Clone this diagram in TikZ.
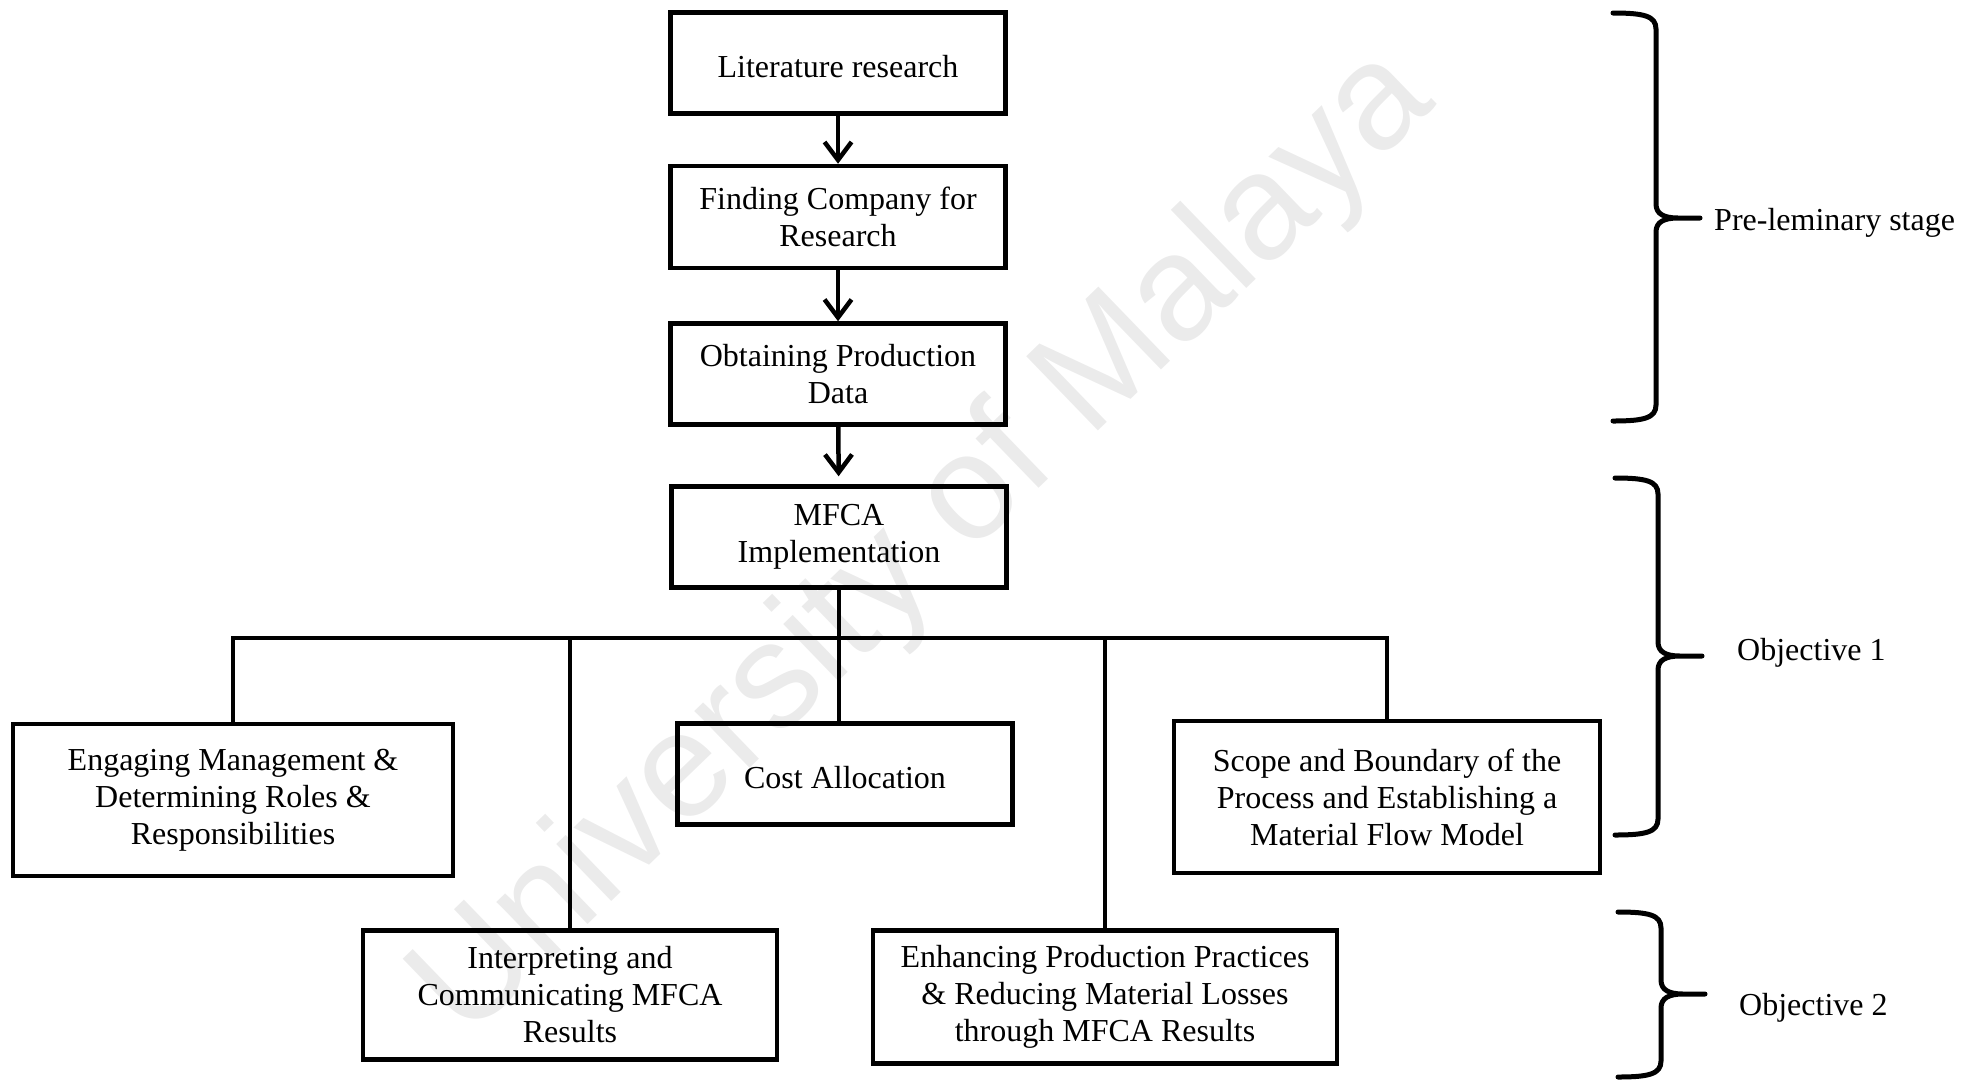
\documentclass[tikz,border=0pt]{standalone}
\usepackage{fontspec}
\setmainfont{Liberation Serif}
\newfontfamily\marksans{Liberation Sans}
\usetikzlibrary{arrows.meta}

\begin{document}
\begin{tikzpicture}[
		x=1pt, y=-1pt,
		stagebox/.style={draw=black, line width=4.5pt, align=center, inner sep=0pt,
			font=\fontsize{32}{37}\selectfont, execute at begin node={\rule{0pt}{29pt}}},
		flow/.style={line width=4.5pt, -{Straight Barb[length=18pt,width=27pt]}},
		link/.style={line width=4pt},
		curly/.style={line width=5pt, line cap=round, line join=round},
		stagelabel/.style={anchor=west, inner sep=0pt, font=\fontsize{32}{37}\selectfont}
	]
	\useasboundingbox (0,0) rectangle (1984,1080);
	% watermark
	\node[text=black!8, rotate=44, font=\marksans\fontsize{150}{150}\selectfont] (mark) at (925,545) {University of Malaya};

	% preliminary chain
	\node[stagebox, minimum width=335pt, minimum height=101pt] (lit) at (838,63) {Literature research};
	\node[stagebox, minimum width=335pt, minimum height=102pt] (find) at (838,217) {Finding Company for\\Research};
	\node[stagebox, minimum width=335pt, minimum height=101pt] (obtain) at (838,374) {Obtaining Production\\Data};
	\node[stagebox, minimum width=335pt, minimum height=101pt] (mfca) at (839,537) {MFCA\\Implementation};

	% objective boxes
	\node[stagebox, minimum width=440pt, minimum height=152pt] (engage) at (233,800) {Engaging Management \&\\Determining Roles \&\\Responsibilities};
	\node[stagebox, minimum width=335pt, minimum height=101pt] (cost) at (845,774) {Cost Allocation};
	\node[stagebox, minimum width=426pt, minimum height=152pt] (scope) at (1387,797) {Scope and Boundary of the\\Process and Establishing a\\Material Flow Model};
	\node[stagebox, minimum width=414pt, minimum height=129pt] (interp) at (570,995) {Interpreting and\\Communicating MFCA\\Results};
	\node[stagebox, minimum width=464pt, minimum height=133pt] (enhance) at (1105,997) {Enhancing Production Practices\\\& Reducing Material Losses\\through MFCA Results};

	\draw[flow] (lit) -- (find);
	\draw[flow] (find) -- (obtain);
	\draw[flow, shorten >=8pt] (obtain) -- (mfca);

	% bus
	\coordinate (bus) at (839,638);
	\draw[link] (mfca) -- (mfca |- cost.north);
	\draw[link] (engage.north) |- (bus) -| (scope.north);
	\foreach \n in {interp,enhance}
		\draw[link] (\n.north) -- (\n.north |- bus);

	% braces
	\foreach \bx/\btop/\bmid/\bbot in {1656/13/218/421, 1658/478/656/835, 1661/912/994/1077}
		\draw[curly] ({\bx-43},\btop) .. controls ({\bx-12},\btop) and (\bx,{\btop+3}) .. (\bx,{\btop+16})
			-- (\bx,{\bmid-14}) .. controls (\bx,{\bmid-4}) and ({\bx+8},\bmid) .. ({\bx+22},\bmid) -- ({\bx+44},\bmid)
			-- ({\bx+22},\bmid) .. controls ({\bx+8},\bmid) and (\bx,{\bmid+4}) .. (\bx,{\bmid+14})
			-- (\bx,{\bbot-16}) .. controls (\bx,{\bbot-3}) and ({\bx-12},\bbot) .. ({\bx-43},\bbot);

	\node[stagelabel] (pre) at (1714,223) {Pre-leminary stage};
	\node[stagelabel] (obj1) at (1737,653) {Objective 1};
	\node[stagelabel] (obj2) at (1739,1008) {Objective 2};
\end{tikzpicture}
\end{document}
